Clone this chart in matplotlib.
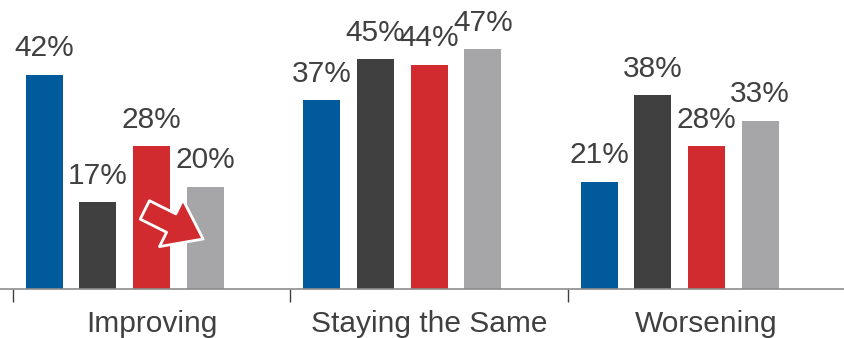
import numpy as np
import matplotlib.pyplot as plt

plt.rcParams['font.family'] = ['Liberation Sans', 'DejaVu Sans']

categories = ['Improving', 'Staying the Same', 'Worsening']
series_blue = [42, 37, 21]
series_dark = [17, 45, 38]
series_red = [28, 44, 28]
series_gray = [20, 47, 33]

colors = ['#005a9c', '#404041', '#d12a2f', '#a6a6a8']
offsets = [-0.387, -0.194, 0.0, 0.193]
width = 0.133

fig = plt.figure(figsize=(8.44, 3.38), dpi=100)
ax = fig.add_axes([0, 0.145, 1, 0.83])

x = np.arange(len(categories))
for vals, col, off in zip([series_blue, series_dark, series_red, series_gray], colors, offsets):
    bars = ax.bar(x + off, vals, width=width, color=col)
    for b, v in zip(bars, vals):
        ax.annotate(f'{v}%', (b.get_x() + b.get_width() / 2, v),
                    xytext=(0, 9), textcoords='offset points',
                    ha='center', va='bottom', fontsize=21.5, color='#404041')

# down-right arrow from the red bar into the gray bar (Improving)
ax.annotate('', xy=(x[0] + 0.185, 9.8), xytext=(x[0] - 0.025, 15.5),
            arrowprops=dict(arrowstyle='simple,head_length=0.95,head_width=1.4,tail_width=0.55',
                            mutation_scale=27, fc=colors[2], ec='white', lw=2,
                            shrinkA=0, shrinkB=0))

ax.set_xlim(-0.547, 2.495)
ax.set_ylim(0, 55)

ax.set_xticks(x)
ax.set_xticklabels(categories, fontsize=21.5, color='#404041')
ax.tick_params(axis='x', which='major', length=0, pad=15)
ax.set_xticks([-0.5, 0.5, 1.5], minor=True)
ax.tick_params(axis='x', which='minor', length=9, width=1, color='#404041', direction='out')
ax.set_yticks([])

for s in ['top', 'right', 'left']:
    ax.spines[s].set_visible(False)
ax.spines['bottom'].set_color('#8c8c8c')
ax.spines['bottom'].set_linewidth(1.2)

fig.savefig('out.png', dpi=100)
